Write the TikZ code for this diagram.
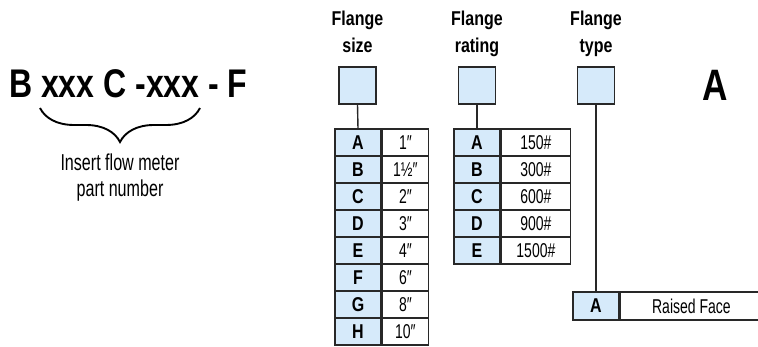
\documentclass[tikz,border=0pt]{standalone}
\usepackage{fontspec}
\setmainfont[FakeStretch=0.70, BoldFeatures={FakeStretch=0.80}]{Liberation Sans}
\usetikzlibrary{positioning, decorations.pathreplacing}
\definecolor{cellblue}{RGB}{214,234,250}
\definecolor{linegray}{RGB}{40,40,40}

\begin{document}
\begin{tikzpicture}[x = 1pt, y = -1pt,
		keycell/.style = {draw = linegray, line width = 1.4pt, fill = cellblue, minimum width = 46pt, minimum height = 27pt, inner sep = 0pt, font = \fontsize{20}{22}\selectfont\bfseries},
		valcell/.style = {draw = linegray, line width = 1.4pt, fill = white, minimum height = 27pt, inner sep = 0pt, font = \fontsize{20}{22}\selectfont},
		codebox/.style = {draw = linegray, line width = 1.4pt, fill = cellblue, minimum size = 37pt, inner sep = 0pt},
		header/.style = {align = center, anchor = north, inner sep = 0pt, font = \fontsize{20}{27}\selectfont\bfseries},
		stem/.style = {draw = linegray, line width = 1.4pt}]
	\useasboundingbox (0,0) rectangle (758,347);
	% model code
	\node[anchor = base west, inner sep = 0pt, font = \fontsize{40}{44}\selectfont\bfseries] (code) at (9,98) {B xxx C -xxx - F};
	\coordinate (brL) at (40,108);
	\coordinate (brR) at (200,108);
	\draw[line width = 1.9pt, decorate, decoration = {brace, mirror, amplitude = 34pt}] (brL) -- (brR);
	\node[anchor = north, align = center, inner sep = 0pt, font = \fontsize{23}{26}\selectfont] (insert) at (120,154) {Insert flow meter\\part number};
	% headers and code boxes
	\node[header] (sizehead) at (357.5,10.5) {Flange\\size};
	\node[header] (ratehead) at (477,10.5) {Flange\\rating};
	\node[header] (typehead) at (596,10.5) {Flange\\type};
	\node[codebox] (sizebox) at (357.5,85.5) {};
	\node[codebox] (ratebox) at (477,85.5) {};
	\node[codebox] (typebox) at (596,85.5) {};
	\node[inner sep = 0pt, font = \fontsize{44}{46}\selectfont\bfseries] (lastA) at (715.5,85) {A};
	% flange size
	\foreach \k/\v [count = \i from 0] in {A/1″, B/1½″, C/2″, D/3″, E/4″, F/6″, G/8″, H/10″} {
		\node[keycell] (size-\k) at (358,142.5+27*\i) {\k};
		\node[valcell, minimum width = 46pt, right = 0pt of size-\k] (size-\k-v) {\v};
	}
	% flange rating
	\foreach \k/\v [count = \i from 0] in {A/150\#, B/300\#, C/600\#, D/900\#, E/1500\#} {
		\node[keycell] (rate-\k) at (477,142.5+27*\i) {\k};
		\node[valcell, minimum width = 69pt, right = 0pt of rate-\k] (rate-\k-v) {\v};
	}
	% flange type
	\node[keycell, minimum height = 28pt] (type-A) at (596,306) {A};
	\node[valcell, minimum height = 28pt, minimum width = 142pt, right = 0pt of type-A] (type-A-v) {Raised Face};
	\draw[stem] (sizebox.south) -- (size-A.north);
	\draw[stem] (ratebox.south) -- (rate-A.north);
	\draw[stem] (typebox.south) -- (type-A.north);
\end{tikzpicture}
\end{document}
